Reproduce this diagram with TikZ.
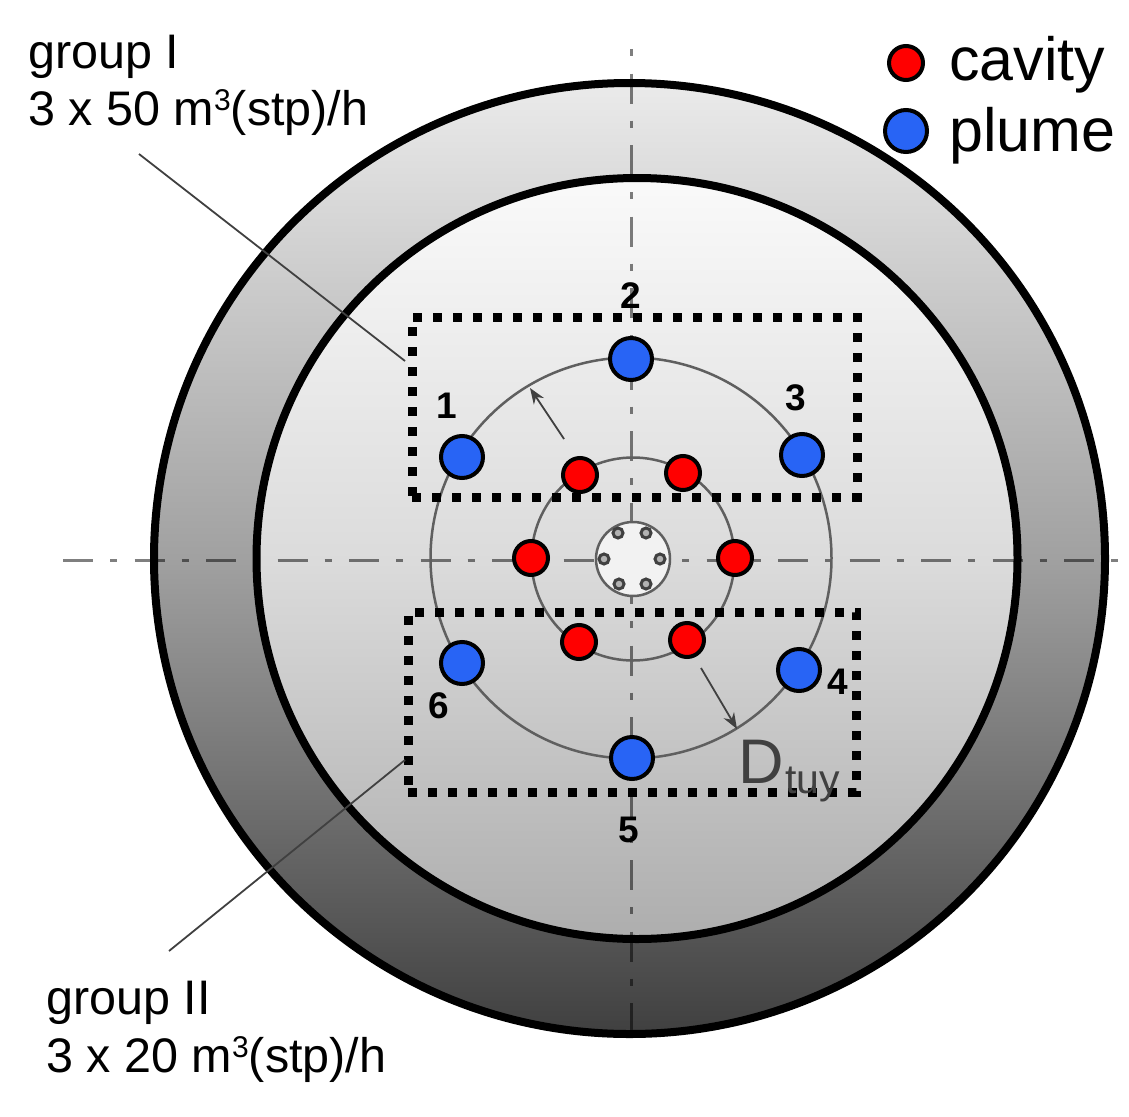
\documentclass[tikz,border=0pt]{standalone}
\usepackage{fontspec}
\usetikzlibrary{arrows.meta}
\setmainfont{Liberation Sans}
\definecolor{plumeblue}{RGB}{40,100,245}
\definecolor{inkgray}{RGB}{95,95,95}
\newcommand{\cubesup}{\raisebox{15pt}{\fontsize{30}{30}\selectfont 3}}
\tikzset{
	disc/.style={draw, circle, inner sep=0pt, outer sep=0pt},
	ringline/.style={disc, draw=inkgray, line width=2.5pt},
	cavpt/.style={disc, fill=red, line width=4pt, minimum size=34pt},
	plumept/.style={disc, fill=plumeblue, line width=4pt, minimum size=42pt},
	hole/.style={disc, draw=black!75, fill=gray!60, line width=3pt, minimum size=10pt},
	groupbox/.style={draw, rectangle, inner sep=0pt, outer sep=0pt, line width=9pt, dash pattern=on 9pt off 11pt},
	axisline/.style={draw=black, draw opacity=0.5, line width=3pt, dash pattern=on 30pt off 17pt on 7pt off 17.5pt},
	leader/.style={draw=black!75, line width=1.8pt},
	diamarrow/.style={leader, -{Stealth[length=16pt, width=12pt]}},
	numlabel/.style={inner sep=0pt, font=\fontsize{37}{37}\bfseries\selectfont},
	txtlabel/.style={inner sep=0pt, anchor=base west, align=left}
}
\begin{document}
\begin{tikzpicture}[x=1pt, y=-1pt]
	\useasboundingbox (0,0) rectangle (1129,1116);
	% casing and lining
	\node[disc, line width=8pt, top color=black!8, bottom color=black!75, middle color=black!37, minimum size=951pt] (outer)at(629.5, 558.5) {};
	\node[disc, line width=8pt, top color=black!2, bottom color=black!32, middle color=black!14, minimum size=761pt] (inner)at(637, 558.5) {};
	% axes
	\coordinate (axL)at(63, 560);
	\coordinate (axR)at(1118, 560);
	\coordinate (axT)at(631, 49);
	\coordinate (axB)at(631, 1047);
	\draw[axisline] (axL) -- (axR);
	\draw[axisline, dash phase=47pt] (axT) -- (axB);
	% burner rings
	\node[ringline, minimum size=401pt] (ringP)at(631, 558) {};
	\node[ringline, minimum size=203pt] (ringC)at(633, 559) {};
	\node[ringline, fill=white!95!black, minimum size=74pt] (hub)at(633, 559) {};
	\node[hole] (h1)at(618, 533) {};
	\node[hole] (h2)at(646, 533) {};
	\node[hole] (h3)at(604, 559) {};
	\node[hole] (h4)at(660, 559) {};
	\node[hole] (h5)at(619, 584) {};
	\node[hole] (h6)at(646, 584) {};
	% groups
	\node[groupbox, minimum width=445pt, minimum height=180pt] (groupA)at(634.5, 407) {};
	\node[groupbox, minimum width=448pt, minimum height=180pt] (groupB)at(632, 702) {};
	% tuyeres
	\node[cavpt] (c1)at(580, 475) {};
	\node[cavpt] (c2)at(683, 473) {};
	\node[cavpt] (c3)at(531, 558) {};
	\node[cavpt] (c4)at(735, 558) {};
	\node[cavpt] (c5)at(579, 642) {};
	\node[cavpt] (c6)at(687, 640) {};
	\node[plumept] (p1)at(462, 457) {};
	\node[plumept] (p2)at(631, 359) {};
	\node[plumept] (p3)at(802, 455) {};
	\node[plumept] (p4)at(799, 670) {};
	\node[plumept] (p5)at(632, 758) {};
	\node[plumept] (p6)at(462, 663) {};
	\node[numlabel] (n1)at(447, 406) {1};
	\node[numlabel] (n2)at(631, 296) {2};
	\node[numlabel] (n3)at(796, 398) {3};
	\node[numlabel] (n4)at(838, 682) {4};
	\node[numlabel] (n5)at(629, 830) {5};
	\node[numlabel] (n6)at(439, 706) {6};
	% diameter arrows
	\coordinate (d1a)at(564, 439);
	\coordinate (d1b)at(530, 388);
	\coordinate (d2a)at(701, 668);
	\coordinate (d2b)at(737, 729);
	\draw[diamarrow] (d1a) -- (d1b);
	\draw[diamarrow] (d2a) -- (d2b);
	\node[txtlabel, text=black!75, font=\fontsize{63}{63}\selectfont] (dlab)at(738, 783) {D};
	\node[txtlabel, text=black!75, font=\fontsize{41}{41}\selectfont] (dsub)at(785, 793) {tuy};
	% group labels
	\node[txtlabel, font=\fontsize{48.5}{57}\selectfont] (labA)at(28, 125) {group I\\3 x 50 m\cubesup(stp)/h};
	\node[txtlabel, font=\fontsize{48.5}{58}\selectfont] (labB)at(46, 1072) {group II\\3 x 20 m\cubesup(stp)/h};
	\coordinate (la)at(139, 154);
	\coordinate (lb)at(405, 361);
	\coordinate (lc)at(169, 951);
	\coordinate (ld)at(405, 760);
	\draw[leader] (la) -- (lb);
	\draw[leader] (lc) -- (ld);
	% legend
	\node[cavpt] (keyC)at(906, 63) {};
	\node[plumept] (keyP)at(906, 131) {};
	\node[txtlabel, font=\fontsize{61}{61}\selectfont] (txtC)at(949, 80) {cavity};
	\node[txtlabel, font=\fontsize{61}{61}\selectfont] (txtP)at(949, 151) {plume};
\end{tikzpicture}
\end{document}
